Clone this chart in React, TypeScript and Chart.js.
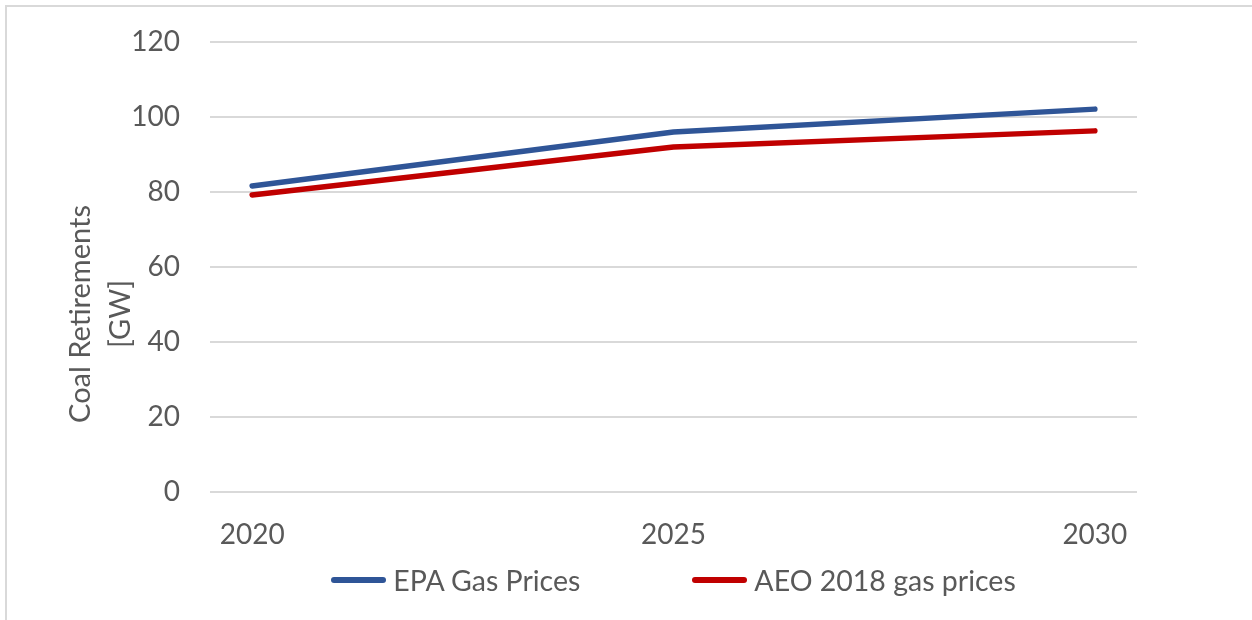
import React, { useEffect, useRef } from "react";
import { Chart, registerables } from "chart.js";

Chart.register(...registerables);

const years = [2020, 2025, 2030];
const epaValues = [81.6, 96.0, 102.1];
const aeoValues = [79.2, 92.0, 96.3];
const seriesNames = ["EPA Gas Prices", "AEO 2018 gas prices"];
const seriesColors = ["#2F5597", "#C00000"];
const yTitleLines = ["Coal Retirements", "[GW]"];

const FONT = "Lato";
const TEXT = "#595959";
const GRID = "#D9D9D9";

const framePlugin = {
  id: "frame",
  beforeDraw(chart: any) {
    const ctx = chart.ctx;
    ctx.save();
    ctx.strokeStyle = GRID;
    ctx.lineWidth = 2;
    ctx.beginPath();
    ctx.moveTo(6, 620);
    ctx.lineTo(6, 6);
    ctx.lineTo(1252, 6);
    ctx.stroke();
    ctx.restore();
  },
  afterDraw(chart: any) {
    const ctx = chart.ctx;
    ctx.save();
    ctx.translate(101, 314);
    ctx.rotate(-Math.PI / 2);
    ctx.fillStyle = TEXT;
    ctx.font = `29px ${FONT}`;
    ctx.textAlign = "center";
    ctx.textBaseline = "middle";
    ctx.fillText(yTitleLines[0], 0, -20);
    ctx.fillText(yTitleLines[1], 0, 20);
    ctx.restore();
  },
};

export default function App() {
  const ref = useRef<HTMLCanvasElement>(null);

  useEffect(() => {
    if (!ref.current) return;
    const mk = (vals: number[]) => years.map((x, i) => ({ x, y: vals[i] }));
    const ds = (i: number, vals: number[]) => ({
      label: seriesNames[i],
      data: mk(vals),
      borderColor: seriesColors[i],
      backgroundColor: seriesColors[i],
      borderWidth: 5.5,
      borderCapStyle: "round" as const,
      borderJoinStyle: "round" as const,
      pointRadius: 0,
      tension: 0,
    });
    const chart = new Chart(ref.current, {
      type: "line",
      data: { datasets: [ds(0, epaValues), ds(1, aeoValues)] },
      options: {
        responsive: false,
        animation: false,
        layout: { padding: { left: 0, right: 115, top: 42, bottom: 58 } },
        plugins: { legend: { display: false }, tooltip: { enabled: false } },
        scales: {
          x: {
            type: "linear",
            min: 2019.5,
            max: 2030.5,
            afterBuildTicks: (s: any) => {
              s.ticks = years.map((v) => ({ value: v }));
            },
            afterFit: (s: any) => {
              s.height = 70;
            },
            grid: { display: false, drawTicks: false },
            border: { display: false },
            ticks: {
              color: TEXT,
              font: { family: FONT, size: 28 },
              padding: 26,
              maxRotation: 0,
              autoSkip: false,
              callback: (v: any) => String(v),
            },
          },
          y: {
            min: 0,
            max: 120,
            afterFit: (s: any) => {
              s.width = 210;
              s.paddingTop = 0;
              s.paddingBottom = 0;
            },
            grid: { color: GRID, lineWidth: 2, drawTicks: false },
            border: { display: false },
            ticks: {
              stepSize: 20,
              color: TEXT,
              font: { family: FONT, size: 28 },
              padding: 30,
            },
          },
        },
      },
      plugins: [framePlugin],
    });
    return () => chart.destroy();
  }, []);

  const item = (name: string, color: string) => (
    <div key={name} style={{ display: "flex", alignItems: "center" }}>
      <span
        style={{
          display: "inline-block",
          width: 55,
          height: 6,
          borderRadius: 3,
          background: color,
          marginRight: 7,
        }}
      />
      <span>{name}</span>
    </div>
  );

  return (
    <div style={{ position: "fixed", left: 0, top: 0, width: 1252, height: 620, background: "#fff", overflow: "hidden" }}>
      <canvas ref={ref} width={1252} height={620} />
      <div
        style={{
          position: "absolute",
          left: 210,
          width: 927,
          top: 562,
          height: 36,
          display: "flex",
          justifyContent: "center",
          alignItems: "center",
          gap: 112,
          fontFamily: FONT,
          fontSize: 28.5,
          color: TEXT,
          lineHeight: "36px",
          whiteSpace: "nowrap",
        }}
      >
        {seriesNames.map((n, i) => item(n, seriesColors[i]))}
      </div>
    </div>
  );
}
